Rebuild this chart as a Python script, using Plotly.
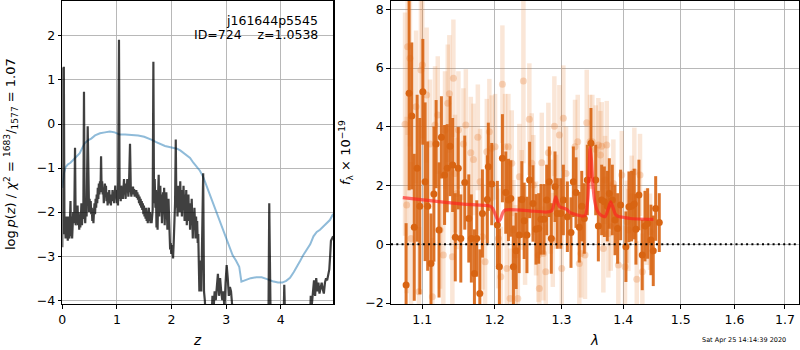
import plotly.graph_objects as go

# ---------------- left panel: p(z) ----------------
z_pz = [0.000, 0.008, 0.018, 0.028, 0.040, 0.050, 0.060, 0.070, 0.080, 0.090,
        0.100, 0.110, 0.120, 0.130, 0.140, 0.150, 0.160, 0.170, 0.180, 0.190,
        0.200, 0.210, 0.220, 0.233, 0.245, 0.260, 0.270, 0.280, 0.290, 0.300,
        0.310, 0.320, 0.330, 0.340, 0.350, 0.360, 0.370, 0.385, 0.397, 0.410,
        0.420, 0.430, 0.445, 0.465, 0.478, 0.490, 0.500, 0.510, 0.520, 0.530,
        0.540, 0.550, 0.560, 0.570, 0.580, 0.590, 0.600, 0.610, 0.620, 0.630,
        0.640, 0.650, 0.660, 0.670, 0.680, 0.690, 0.700, 0.710, 0.720, 0.730,
        0.740, 0.750, 0.760, 0.770, 0.780, 0.790, 0.800, 0.810, 0.820, 0.830,
        0.840, 0.850, 0.860, 0.870, 0.880, 0.890, 0.900, 0.910, 0.920, 0.930,
        0.940, 0.950, 0.960, 0.970, 0.980, 0.990, 1.000, 1.010, 1.020, 1.038,
        1.050, 1.060, 1.070, 1.080, 1.090, 1.100, 1.110, 1.120, 1.130, 1.140,
        1.150, 1.160, 1.170, 1.180, 1.190, 1.200, 1.210, 1.220, 1.240, 1.255,
        1.265, 1.275, 1.285, 1.295, 1.305, 1.315, 1.325, 1.335, 1.345, 1.355,
        1.365, 1.375, 1.385, 1.395, 1.405, 1.415, 1.425, 1.435, 1.445, 1.455,
        1.465, 1.475, 1.485, 1.495, 1.505, 1.515, 1.525, 1.535, 1.545, 1.555,
        1.565, 1.575, 1.585, 1.595, 1.605, 1.615, 1.625, 1.635, 1.645, 1.655,
        1.668, 1.680, 1.692, 1.705, 1.715, 1.725, 1.735, 1.745, 1.755, 1.765,
        1.775, 1.785, 1.795, 1.805, 1.815, 1.825, 1.835, 1.845, 1.855, 1.865,
        1.875, 1.885, 1.895, 1.905, 1.915, 1.925, 1.935, 1.945, 1.955, 1.965,
        1.975, 1.985, 1.995, 2.005, 2.015, 2.028, 2.040, 2.055, 2.065, 2.078,
        2.090, 2.100, 2.110, 2.120, 2.130, 2.140, 2.150, 2.160, 2.170, 2.180,
        2.190, 2.200, 2.210, 2.220, 2.230, 2.240, 2.250, 2.260, 2.270, 2.280,
        2.290, 2.300, 2.310, 2.320, 2.330, 2.340, 2.350, 2.360, 2.370, 2.380,
        2.390, 2.400, 2.410, 2.420, 2.430, 2.440, 2.450, 2.460, 2.470, 2.480,
        2.490, 2.500, 2.510, 2.520, 2.530, 2.545, 2.580, 2.595, 2.610, 2.625,
        2.650, 2.700, 2.730, 2.750, 2.770, 2.790, 2.810, 2.830, 2.850, 2.870,
        2.890, 2.910, 2.930, 2.950, 2.970, 2.990, 3.010, 3.030, 3.050, 3.070,
        3.090, 3.110, 3.130, 3.160, 3.750, 3.775, 3.790, 3.805, 3.830, 4.030,
        4.050, 4.065, 4.080, 4.100, 4.500, 4.530, 4.550, 4.570, 4.590, 4.610,
        4.630, 4.650, 4.670, 4.690, 4.710, 4.730, 4.750, 4.770, 4.790, 4.810,
        4.830, 4.850, 4.870, 4.890, 4.905, 4.920, 4.940, 4.960]
logp_pz = [-2.80, 1.28, -1.60, 1.30, -2.50, -2.20, -2.60, -2.10, -2.50, -2.20,
           -2.65, -2.10, -2.45, -2.60, -2.20, -1.75, -2.55, -2.10, -2.60, -2.30,
           -2.00, -2.25, -2.05, -0.54, -2.30, -1.95, -2.25, -1.85, -2.30, -2.00,
           -2.40, -2.10, -2.35, -2.15, -1.80, -2.30, -2.05, -2.15, 0.73, -2.00,
           -2.25, -1.90, -2.10, -0.05, -1.80, -2.00, -1.70, -1.95, -1.75, -2.05,
           -1.90, -2.20, -1.95, -2.25, -2.00, -1.80, -2.05, -1.70, -1.90, -1.60,
           -1.80, -1.45, -1.70, -1.35, -1.60, -1.30, -1.55, -0.73, -1.50, -1.30,
           -1.60, -1.45, -1.80, -1.50, -1.35, -1.60, -1.40, -1.75, -1.55, -1.85,
           -1.60, -1.75, -1.50, -1.80, -1.65, -1.85, -1.60, -1.75, -1.50, -1.70,
           -1.55, -1.80, -1.60, -1.40, -1.65, -1.50, -1.80, -1.60, -1.85, 1.91,
           -1.70, -1.50, -1.75, -1.40, -1.65, -1.45, -1.70, -1.50, -1.25, -1.60,
           -1.45, -1.70, -1.35, -1.55, -1.25, -1.45, -1.65, -1.45, -0.45, -1.50,
           -1.65, -1.45, -1.60, -1.42, -1.58, -1.48, -1.65, -1.52, -1.62, -1.50,
           -1.68, -1.55, -1.72, -1.60, -1.80, -1.65, -1.85, -1.70, -1.90, -1.75,
           -1.95, -1.80, -2.05, -1.85, -2.10, -1.90, -2.15, -1.90, -2.20, -2.00,
           -2.25, -2.05, -1.90, -2.20, -2.00, -2.25, -2.10, -2.25, -2.15, -1.95,
           1.41, -1.80, -1.25, -1.90, -1.50, -2.35, -1.70, -2.40, -1.60, -1.15,
           -2.10, -1.70, -1.40, -2.00, -1.60, -2.25, -1.85, -1.55, -2.05, -1.45,
           -2.30, -1.85, -2.15, -1.55, -1.95, -2.40, -2.05, -1.70, -2.10, -2.60,
           -2.85, -2.70, -2.95, -2.75, -2.90, -3.05, -2.70, -2.20, -1.80, -0.35,
           -1.90, -1.50, -2.10, -1.40, -1.90, -1.60, -2.00, -1.30, -1.80, -1.50,
           -2.10, -1.60, -1.90, -1.40, -1.80, -2.20, -1.60, -2.00, -1.50, -2.30,
           -1.80, -2.10, -1.60, -2.20, -1.90, -2.40, -1.80, -2.30, -1.70, -2.20,
           -2.60, -2.00, -2.40, -1.90, -2.30, -2.60, -2.10, -2.50, -2.20, -2.70,
           -2.50, -3.30, -3.80, -3.10, -3.60, -3.80, -1.12, -3.80, -4.00, -4.50,
           -6.00, -6.00, -4.50, -3.90, -4.20, -3.80, -4.00, -3.60, -3.40, -3.90,
           -3.50, -3.80, -4.00, -3.80, -4.20, -3.60, -3.20, -3.50, -3.90, -3.70,
           -3.80, -4.10, -4.60, -6.00, -6.00, -4.50, -1.80, -4.50, -6.00, -6.00,
           -4.40, -3.65, -4.40, -6.00, -6.00, -4.30, -3.90, -4.10, -3.80, -3.55,
           -3.90, -3.50, -3.80, -3.60, -3.85, -3.70, -3.60, -3.75, -3.85, -3.60,
           -3.50, -3.55, -3.40, -3.30, -3.00, -2.65, -2.60, -2.55]

z_pz_chi2 = [0.00, 0.01, 0.03, 0.06, 0.10, 0.15, 0.20, 0.26, 0.32, 0.37,
             0.41, 0.47, 0.53, 0.60, 0.69, 0.78, 0.87, 0.96, 1.05, 1.15,
             1.25, 1.39, 1.50, 1.58, 1.64, 1.72, 1.80, 1.88, 1.96, 2.04,
             2.10, 2.16, 2.22, 2.28, 2.34, 2.40, 2.46, 2.52, 2.58, 2.64,
             2.70, 2.76, 2.82, 2.88, 2.94, 3.00, 3.06, 3.12, 3.18, 3.24,
             3.28, 3.35, 3.45, 3.55, 3.65, 3.75, 3.85, 3.95, 4.03, 4.10,
             4.17, 4.24, 4.30, 4.36, 4.42, 4.48, 4.54, 4.60, 4.66, 4.72,
             4.78, 4.84, 4.90, 4.96]
logp_chi2 = [-1.45, -1.30, -1.12, -0.98, -0.92, -0.88, -0.82, -0.74, -0.66, -0.53,
             -0.44, -0.37, -0.33, -0.26, -0.21, -0.19, -0.17, -0.19, -0.24, -0.24,
             -0.25, -0.26, -0.29, -0.32, -0.36, -0.41, -0.46, -0.50, -0.52, -0.54,
             -0.56, -0.60, -0.65, -0.71, -0.77, -0.88, -0.98, -1.06, -1.20, -1.40,
             -1.60, -1.82, -2.02, -2.20, -2.42, -2.62, -2.82, -2.98, -3.10, -3.24,
             -3.58, -3.54, -3.50, -3.48, -3.48, -3.52, -3.57, -3.60, -3.60, -3.56,
             -3.49, -3.36, -3.24, -3.10, -2.96, -2.84, -2.73, -2.55, -2.45, -2.40,
             -2.33, -2.27, -2.18, -2.04]

# ---------------- right panel: spectrum ----------------
lam_dark = [1.0788, 1.0827, 1.0862, 1.0894, 1.0932, 1.0967, 1.1007, 1.1037, 1.1071, 1.1115,
            1.1154, 1.1184, 1.1223, 1.1255, 1.1298, 1.1334, 1.1373, 1.1408, 1.1444, 1.1485,
            1.1520, 1.1575, 1.1631, 1.1667, 1.1710, 1.1743, 1.1786, 1.1823, 1.1893, 1.1907,
            1.1956, 1.2037, 1.2066, 1.2110, 1.2159, 1.2198, 1.2233, 1.2271, 1.2311, 1.2356,
            1.2396, 1.2431, 1.2472, 1.2512, 1.2563, 1.2608, 1.2649, 1.2684, 1.2730, 1.2771,
            1.2811, 1.2842, 1.2899, 1.2935, 1.2988, 1.3029, 1.3092, 1.3149, 1.3186, 1.3228,
            1.3281, 1.3320, 1.3361, 1.3409, 1.3468, 1.3545, 1.3588, 1.3642, 1.3686, 1.3735,
            1.3768, 1.3818, 1.3862, 1.3906, 1.3956, 1.4045, 1.4096, 1.4141, 1.4186, 1.4215,
            1.4266, 1.4323, 1.4370, 1.4416, 1.4473, 1.4514, 1.4556, 1.4619]
flux_dark = [-1.38, 5.14, 4.37, 0.58, 2.59, 1.30, 5.19, 2.13, 1.30, -0.65,
             1.71, 3.41, 0.49, 3.64, 2.36, 2.59, 3.34, 2.70, 0.24, 2.59,
             0.20, 2.10, 0.88, 0.20, -0.99, 0.20, -1.67, 1.05, 1.53, 2.64,
             2.05, 0.66, -0.76, 2.93, 1.76, 1.51, 1.56, -0.76, -0.22, 0.32,
             1.53, 0.80, 0.32, 2.19, 1.39, 0.51, 0.54, 0.85, 0.85, 1.51,
             2.13, 0.20, 1.96, 1.05, 1.05, 1.51, 0.94, 0.40, 2.13, 1.76,
             0.58, 1.30, 0.88, 2.19, 3.44, 2.19, 0.62, 1.51, 1.45, 1.30,
             1.73, 1.51, 0.83, 0.54, 1.34, -0.08, 1.28, 1.30, 1.37, 0.51,
             1.68, -0.36, 0.62, 0.71, 0.15, -0.22, 1.22, 0.74]
err_dark = [2.1, 3.3, 2.5, 2.5, 2.5, 3.0, 1.8, 2.7, 2.2, 1.7,
            2.3, 1.5, 2.3, 1.4, 1.7, 1.5, 1.7, 1.6, 1.5, 1.4,
            1.5, 1.6, 1.5, 1.5, 1.5, 1.3, 1.5, 1.5, 1.5, 1.5,
            1.4, 1.5, 1.3, 1.5, 1.4, 1.4, 1.3, 1.4, 1.3, 1.3,
            1.3, 1.3, 1.3, 1.3, 1.3, 1.2, 1.2, 1.2, 1.2, 1.2,
            1.2, 1.2, 1.2, 1.2, 1.2, 1.2, 1.2, 1.2, 1.2, 1.2,
            1.2, 1.2, 1.2, 1.2, 1.2, 1.2, 1.2, 1.2, 1.2, 1.2,
            1.2, 1.2, 1.2, 1.2, 1.2, 1.2, 1.2, 1.2, 1.2, 1.2,
            1.2, 1.2, 1.2, 1.2, 1.2, 1.2, 1.1, 1.0]

lam_light = [1.0774, 1.0795, 1.0808, 1.0838, 1.0852, 1.0917, 1.0956, 1.0982, 1.1000, 1.1058,
             1.1102, 1.1133, 1.1169, 1.1206, 1.1237, 1.1281, 1.1304, 1.1341, 1.1363, 1.1404,
             1.1418, 1.1441, 1.1465, 1.1487, 1.1556, 1.1590, 1.1659, 1.1696, 1.1758, 1.1790,
             1.1823, 1.1861, 1.1885, 1.1922, 1.1956, 1.2004, 1.2052, 1.2087, 1.2110, 1.2149,
             1.2174, 1.2197, 1.2222, 1.2247, 1.2271, 1.2306, 1.2336, 1.2359, 1.2395, 1.2419,
             1.2444, 1.2508, 1.2544, 1.2568, 1.2609, 1.2644, 1.2659, 1.2696, 1.2720, 1.2757,
             1.2797, 1.2834, 1.2865, 1.2889, 1.2916, 1.2967, 1.3004, 1.3029, 1.3071, 1.3213,
             1.3256, 1.3281, 1.3308, 1.3372, 1.3400, 1.3453, 1.3490, 1.3546, 1.3588, 1.3621,
             1.3644, 1.3670, 1.3698, 1.3726, 1.3752, 1.3792, 1.3835, 1.3918, 1.3975, 1.4030,
             1.4059, 1.4086, 1.4143, 1.4188, 1.4229, 1.4285, 1.4325, 1.4401, 1.4458]
flux_light = [4.09, 1.34, 6.72, 6.33, 0.20, 4.68, -1.61, 5.93, 6.10, 5.08,
              3.41, -1.78, 4.06, 4.40, 0.49, -0.36, 3.89, 4.80, 5.12, -0.42,
              5.65, 2.41, 1.73, 3.89, 3.41, 4.06, 3.12, 2.89, 3.64, 2.13,
              0.26, -0.59, 3.15, 3.83, 3.27, 3.32, 0.20, -1.10, 5.45, 3.32,
              -0.82, 3.32, -1.84, 2.76, 0.49, -0.36, -1.84, 2.30, 1.51, 5.56,
              0.32, 4.26, 2.76, 2.02, 0.54, -0.36, -1.50, 2.78, -0.31, -0.93,
              3.12, 1.28, 0.15, 4.02, 1.45, 3.72, -0.82, 4.29, 2.41, 3.32,
              3.49, -0.65, -0.31, -0.36, 4.14, 3.49, 3.49, 3.23, 3.38, 3.04,
              3.34, -0.14, 2.19, 3.38, 0.37, 0.60, 2.07, -0.70, 2.36, -0.76,
              0.77, 0.49, 1.62, 2.47, -1.19, 2.36, -0.93, 0.60, 0.43]
err_light = [3.8, 3.0, 3.0, 3.0, 2.6, 2.6, 2.2, 2.5, 2.5, 2.3,
             2.2, 2.0, 2.0, 2.0, 2.0, 1.8, 2.0, 2.0, 2.0, 1.8,
             2.0, 2.0, 1.9, 2.0, 1.9, 1.9, 1.9, 1.9, 1.8, 1.8,
             1.8, 1.7, 1.8, 1.8, 1.8, 1.8, 1.7, 1.7, 2.0, 1.8,
             1.7, 1.8, 1.7, 1.8, 1.7, 1.7, 1.7, 1.8, 1.7, 2.8,
             1.7, 1.9, 1.7, 1.7, 1.6, 1.6, 1.6, 1.7, 1.6, 1.6,
             1.7, 1.6, 1.6, 1.7, 1.6, 1.7, 1.6, 1.8, 1.6, 1.6,
             1.6, 1.5, 1.5, 1.5, 1.8, 1.6, 1.6, 1.5, 1.6, 1.5,
             1.5, 1.5, 1.5, 1.5, 1.5, 1.5, 1.5, 1.4, 1.5, 1.4,
             1.4, 1.4, 1.4, 1.5, 1.3, 1.4, 1.3, 1.3, 1.3]

lam_model = [1.0745, 1.1012, 1.1555, 1.1932, 1.1970, 1.2010, 1.2050, 1.2080, 1.2120, 1.2150,
             1.2219, 1.2516, 1.2771, 1.2850, 1.2890, 1.2910, 1.2935, 1.2970, 1.3001, 1.3081,
             1.3134, 1.3335, 1.3380, 1.3420, 1.3440, 1.3454, 1.3475, 1.3500, 1.3530, 1.3560,
             1.3600, 1.3650, 1.3700, 1.3750, 1.3790, 1.3830, 1.3870, 1.3920, 1.4003, 1.4116,
             1.4516]
flux_model = [1.59, 1.51, 1.37, 1.30, 1.22, 1.00, 0.78, 0.85, 1.10, 1.17,
              1.18, 1.14, 1.10, 1.15, 1.45, 1.62, 1.45, 1.28, 1.25, 1.19,
              1.08, 0.96, 1.00, 1.60, 2.60, 3.30, 2.90, 2.00, 1.45, 1.20,
              1.05, 0.97, 0.94, 1.20, 1.45, 1.25, 1.02, 0.95, 0.92, 0.88,
              0.85]

z_ticks = [0, 1, 2, 3, 4]
logp_ticks = [-4, -3, -2, -1, 0, 1, 2]
lam_ticks = [1.1, 1.2, 1.3, 1.4, 1.5, 1.6, 1.7]
flux_ticks = [-2, 0, 2, 4, 6, 8]

FONT = "DejaVu Sans"
W, H = 800, 350

def fmt(v):
    return str(v).replace("-", "\u2212")

fig = go.Figure()
fig.add_trace(go.Scatter(x=z_pz_chi2, y=logp_chi2, mode="lines",
                         line=dict(color="rgba(31,119,180,0.5)", width=2),
                         xaxis="x", yaxis="y", showlegend=False, hoverinfo="skip"))
fig.add_trace(go.Scatter(x=z_pz, y=logp_pz, mode="lines",
                         line=dict(color="rgba(0,0,0,0.75)", width=2.2),
                         xaxis="x", yaxis="y", showlegend=False, hoverinfo="skip"))

fig.add_trace(go.Scatter(x=lam_light, y=flux_light, mode="markers",
                         marker=dict(size=7, color="rgba(232,128,56,0.3)", line=dict(width=0)),
                         error_y=dict(type="data", array=err_light, visible=True,
                                      color="rgba(232,128,56,0.2)", thickness=4.5, width=0),
                         xaxis="x2", yaxis="y2", showlegend=False, hoverinfo="skip"))
fig.add_trace(go.Scatter(x=lam_dark, y=flux_dark, mode="markers",
                         marker=dict(size=7, color="rgb(216,100,18)", line=dict(width=0)),
                         error_y=dict(type="data", array=err_dark, visible=True,
                                      color="rgba(216,100,18,0.9)", thickness=3, width=0),
                         xaxis="x2", yaxis="y2", showlegend=False, hoverinfo="skip"))
fig.add_trace(go.Scatter(x=lam_model, y=flux_model, mode="lines",
                         line=dict(color="rgba(255,30,30,0.65)", width=3.2, shape="spline", smoothing=0.6),
                         xaxis="x2", yaxis="y2", showlegend=False, hoverinfo="skip"))

ax_common = dict(showgrid=True, gridcolor="#b0b0b0", gridwidth=0.9, automargin=False,
                 showline=True, mirror=True, linecolor="black", linewidth=1.2,
                 ticks="outside", ticklen=3.5, tickwidth=1, tickcolor="black",
                 zeroline=False, tickfont=dict(family=FONT, size=12.5, color="black"))

ydom = [46 / H, 349 / H]
fig.update_layout(
    template="none",
    width=W, height=H, margin=dict(l=0, r=0, t=0, b=0, pad=0, autoexpand=False),
    paper_bgcolor="white", plot_bgcolor="white",
    font=dict(family=FONT, color="black"),
    hovermode=False,
    xaxis=dict(domain=[62.3 / W, 333.3 / W], range=[0, 4.963], anchor="y",
               tickvals=z_ticks, ticktext=[fmt(v) for v in z_ticks], **ax_common),
    yaxis=dict(domain=ydom, range=[-4.086, 2.792], anchor="x",
               tickvals=logp_ticks, ticktext=[fmt(v) for v in logp_ticks], **ax_common),
    xaxis2=dict(domain=[391 / W, 799 / W], type="log", range=[0.02507, 0.23775], anchor="y2",
                tickvals=lam_ticks, ticktext=[str(v) for v in lam_ticks], **ax_common),
    yaxis2=dict(domain=ydom, range=[-2.03, 8.28], anchor="x2",
                tickvals=flux_ticks, ticktext=[fmt(v) for v in flux_ticks], **ax_common),
    shapes=[dict(type="line", xref="x2 domain", yref="y2", x0=0, x1=1, y0=0, y1=0,
                 line=dict(color="black", width=2, dash="2px,3.3px"), layer="above")],
)

def ann(text, x, y, size=12.5, xanchor="center", angle=0):
    fig.add_annotation(text=text, x=x / W, y=1 - y / H, xref="paper", yref="paper",
                       showarrow=False, xanchor=xanchor, yanchor="middle", textangle=angle,
                       font=dict(family=FONT, size=size, color="black"))

ann("j161644p5545", 320, 20, xanchor="right")
ann("ID=724\u00a0\u00a0\u00a0\u00a0z=1.0538", 320, 34.5, xanchor="right")
ann("<i>z</i>", 197, 340, size=13.5)
ann("<i>λ</i>", 594, 340, size=13.5)
ann("log\u2009<i>p</i>(<i>z</i>) / <i>χ</i><sup>2</sup> = <sup>1683</sup>/<sub>1577</sub> = 1.07",
    11, 154, size=13, angle=-90)
ann("<i>f</i><sub>λ</sub> × 10<sup>−19</sup>", 346, 153, size=13, angle=-90)
ann("Sat Apr 25 14:14:39 2020", 788, 339.5, size=6.5, xanchor="right")

fig.write_html("out.html", config={"displayModeBar": False, "staticPlot": True},
               post_script="document.body.style.margin='0px';document.body.style.padding='0px';"
                           "document.documentElement.style.overflow='hidden';")
